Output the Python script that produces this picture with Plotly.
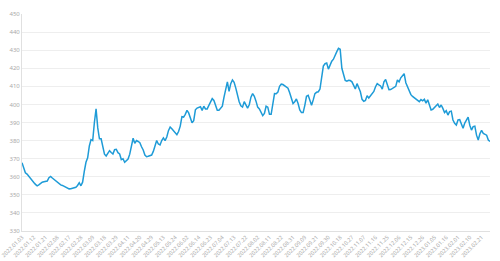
import pandas as pd
import plotly.graph_objects as go

holidays = [
    "2022-01-31", "2022-02-01", "2022-02-02", "2022-02-03", "2022-02-04",
    "2022-04-04", "2022-04-05", "2022-05-02", "2022-05-03", "2022-05-04",
    "2022-06-03", "2022-09-12", "2022-10-03", "2022-10-04", "2022-10-05",
    "2022-10-06", "2022-10-07", "2023-01-02", "2023-01-23", "2023-01-24",
    "2023-01-25", "2023-01-26", "2023-01-27",
]
days = pd.bdate_range("2022-01-03", "2023-02-28")
dates = [d.strftime("%Y.%m.%d") for d in days if d.strftime("%Y-%m-%d") not in holidays]

values = [
    367.8, 365, 362.2, 361.5, 360.2, 359, 357.9, 356.8, 355.8, 355,
    355.5, 356.5, 357, 357.2, 357.3, 357.6, 359.5, 360.2, 359.3, 358.5,
    357.8, 356.8, 356.5, 355.5, 355.2, 354.8, 354.3, 353.8, 353.3, 353.4,
    353.6, 353.8, 354.2, 355.2, 356.7, 355, 357, 363, 368, 370.5,
    377, 380.5, 380, 390, 397.5, 387, 381, 381, 377, 372.5,
    371.5, 373.2, 374.4, 373.4, 372.6, 375, 375.2, 373.3, 372.6, 369.5,
    370, 368, 368.9, 369.8, 372.5, 377.5, 381.3, 378.5, 380, 379.5,
    378.8, 376.6, 374.8, 372, 371.1, 371.3, 371.6, 372, 374, 377,
    380, 378.1, 377.6, 380, 381.5, 380, 382, 385.5, 387.5, 386.5,
    385.5, 384.7, 383.3, 385, 388, 393.2, 393, 394.5, 396.7, 395.3,
    392, 389.9, 391, 397, 398, 398.4, 398.7, 396.7, 399, 397.5,
    397.5, 399.5, 401, 403.2, 402.2, 399, 396.8, 396.8, 398, 399,
    404, 409.5, 412.5, 407.2, 411.5, 413.5, 412.2, 409, 405, 401.5,
    399.2, 398.5, 401.5, 399.5, 398, 399.8, 404, 406, 404.5, 401.8,
    398.5, 397.5, 395.8, 393.8, 395, 399, 398.5, 394.5, 394.5, 401.8,
    406, 405.9, 406.8, 410, 411.2, 411, 410.3, 409.8, 409, 406.5,
    403.5, 400.5, 401.5, 403, 400.5, 397, 395.5, 395.5, 399.5, 404.5,
    405, 402, 399.5, 402.5, 406, 406.7, 407, 408.5, 415, 421.2,
    422.5, 422.9, 419.5, 421.8, 423.9, 425, 427.5, 429.2, 431, 430.5,
    420, 416, 413.3, 412.9, 413.3, 413.2, 412.5, 410.5, 408.5, 411.5,
    409, 407, 402.8, 401.7, 402.2, 404.8, 403.6, 404.8, 405.8, 407.2,
    409.8, 411.5, 410.8, 410.2, 408.5, 412.5, 413.8, 410.2, 408.1, 408.2,
    408.8, 409.5, 410, 413.5, 412.5, 414.7, 416.2, 417, 412, 409.6,
    406.8, 405.4, 404.4, 403.7, 402.9, 402.2, 401.5, 402.7, 402, 402.8,
    400.7, 402.6, 399.7, 396.9, 397.3, 398.3, 399.1, 400.2, 398.3, 399.7,
    397.8, 395.5, 396.5, 394.1, 396, 396.3, 391.4, 389.5, 388.6, 391.4,
    391.6, 388.6, 386.8, 389.7, 391.7, 393, 388.5, 385.8, 387.7, 388,
    383, 380.3, 383.8, 385.6, 384, 383.6, 383, 380.3, 379.5,
]

y_ticks = [330, 340, 350, 360, 370, 380, 390, 400, 410, 420, 430, 440, 450]

n = min(len(dates), len(values))
dates = dates[:n]
values = values[:n]

fig = go.Figure(go.Scatter(
    x=dates, y=values, mode="lines",
    line=dict(color="#1e9bd7", width=1.5),
))

fig.update_layout(
    width=500, height=261,
    margin=dict(l=22, r=10, t=14, b=30),
    paper_bgcolor="white", plot_bgcolor="white",
    showlegend=False,
    font=dict(family="Noto Sans", size=6, color="#aaaaaa"),
)
fig.update_xaxes(
    type="category", range=[0, n - 1], tickmode="linear", tick0=0, dtick=7,
    tickangle=-45, showgrid=False, showline=True, linecolor="#e0e0e0",
    ticks="", tickfont=dict(size=5.5, color="#aaaaaa"), automargin=False,
)
fig.update_yaxes(
    range=[330, 450], tickvals=y_ticks, showgrid=True, gridcolor="#eeeeee",
    showline=True, linecolor="#e0e0e0", zeroline=False, ticks="",
    tickfont=dict(size=6, color="#aaaaaa"), automargin=False,
)

fig.write_html("out.html")
